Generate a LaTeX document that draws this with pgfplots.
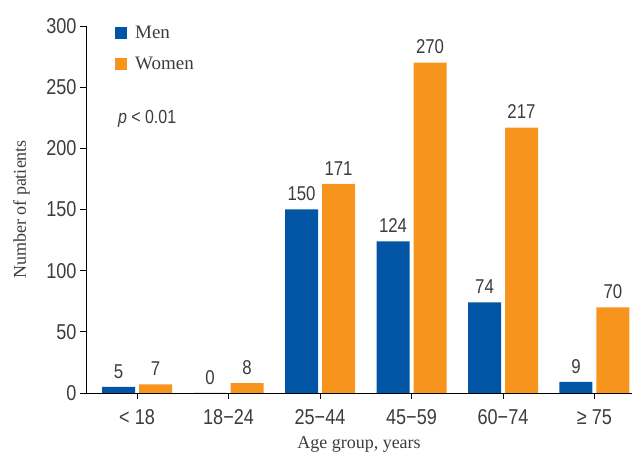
\documentclass[border=0pt]{standalone}
\usepackage{fontspec}
\usepackage{pgfplots}
\pgfplotsset{compat=1.18}
\setmainfont{Liberation Serif}
\newfontfamily\narrow[FakeStretch=0.84]{Liberation Sans}
\definecolor{menblue}{HTML}{0255A5}
\definecolor{womorange}{HTML}{F7941E}
\definecolor{txtgray}{HTML}{3C3C3C}
\begin{document}
\begin{tikzpicture}
\path[use as bounding box] (0pt,0pt) rectangle (635pt,457pt);
\begin{axis}[
  at={(86pt,64pt)}, anchor=south west,
  scale only axis, width=546pt, height=367pt,
  xmin=-0.558, xmax=5.41, ymin=0, ymax=300,
  enlargelimits=false,
  axis x line*=bottom, axis y line*=left,
  axis line style={black, line width=0.9pt},
  major tick style={black, line width=0.9pt},
  major tick length=6pt, tick align=outside,
  xtick={0,1,2,3,4,5},
  xticklabels={< 18, 18−24, 25−44, 45−59, 60−74, ≥ 75},
  ytick={0,50,100,150,200,250,300},
  /pgf/number format/assume math mode=true,
  tick label style={font=\narrow\fontsize{21.5}{23}\selectfont, text=txtgray},
  xticklabel style={yshift=-7pt},
  ybar, bar width=33pt, ybar=4pt,
  nodes near coords,
  every node near coord/.append style={font=\narrow\fontsize{20}{22}\selectfont, text=txtgray, yshift=5pt},
  xlabel={Age group, years},
  ylabel={Number of patients},
  x label style={at={(axis description cs:0.5,-0.150)}, anchor=base, inner sep=0pt, font=\fontsize{18}{20}\selectfont, text=txtgray},
  y label style={at={(axis description cs:-0.118,0.5)}, anchor=center, font=\fontsize{18}{20}\selectfont, text=txtgray},
  legend image code/.code={\fill[#1] (0pt,-6pt) rectangle (12pt,6pt);},
  legend style={draw=none, fill=none, inner sep=0pt, at={(axis description cs:0.053,1.006)}, anchor=north west,
    font=\fontsize{19}{21}\selectfont, text=txtgray, row sep=13pt,
    nodes={inner xsep=8pt}},
  legend cell align=left,
  clip=false,
]
\addplot[fill=menblue, draw=none] coordinates {(0,5) (1,0) (2,150) (3,124) (4,74) (5,9)};
\addplot[fill=womorange, draw=none] coordinates {(0,7) (1,8) (2,171) (3,270) (4,217) (5,70)};
\legend{Men, Women}
\node[font=\narrow\fontsize{19}{21}\selectfont, text=txtgray, anchor=center] at (axis cs:0.11,224) {{\itshape p} < 0.01};
\end{axis}
\end{tikzpicture}
\end{document}
